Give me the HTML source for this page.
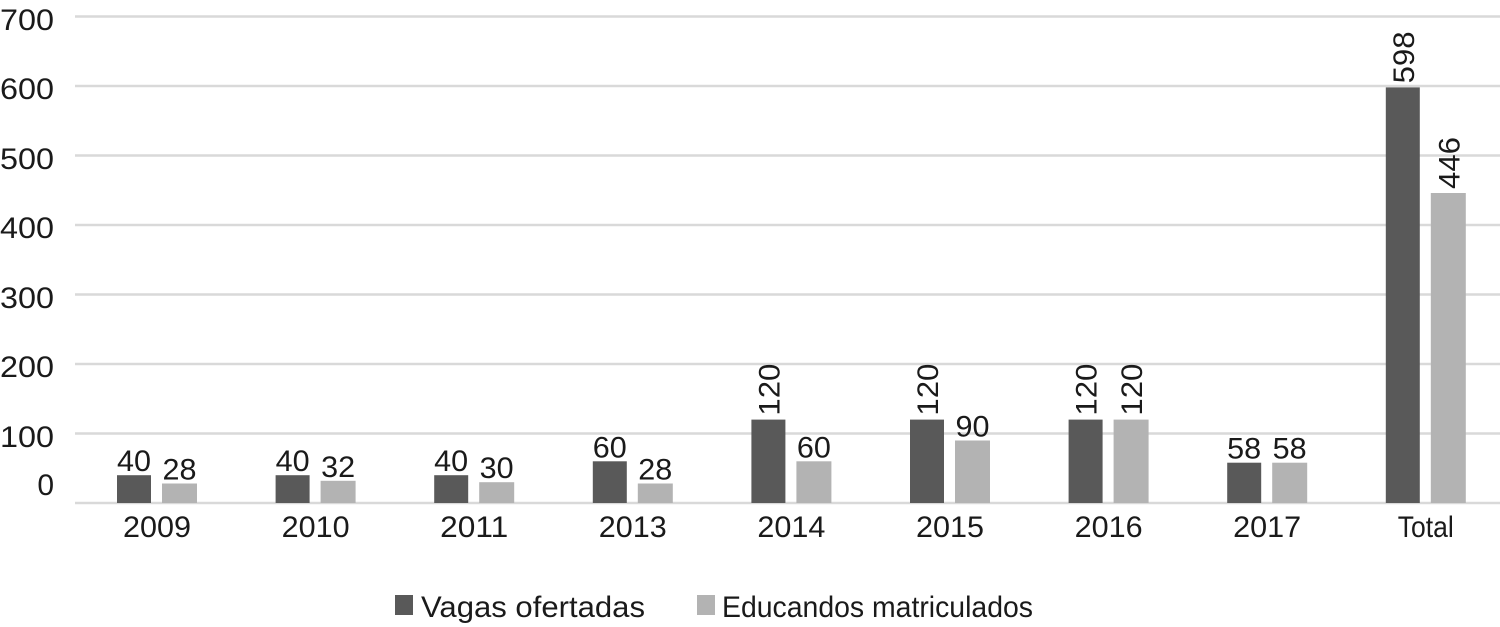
<!DOCTYPE html>
<html><head><style>
html,body{margin:0;padding:0;background:#fff;}
svg{display:block;}
text{font-family:"Liberation Sans",sans-serif;fill:#1a1a1a;}
</style></head><body>
<svg width="1500" height="627" viewBox="0 0 1500 627" xmlns="http://www.w3.org/2000/svg">
<g stroke="#d9d9d9" stroke-width="2.5">
<line x1="75" x2="1500" y1="16.5" y2="16.5"/>
<line x1="75" x2="1500" y1="86" y2="86"/>
<line x1="75" x2="1500" y1="155.5" y2="155.5"/>
<line x1="75" x2="1500" y1="225" y2="225"/>
<line x1="75" x2="1500" y1="294.5" y2="294.5"/>
<line x1="75" x2="1500" y1="364" y2="364"/>
<line x1="75" x2="1500" y1="433.5" y2="433.5"/>
<line x1="75" x2="1500" y1="503" y2="503"/>
</g>
<g font-size="30" text-anchor="end">
<text x="54" y="30" textLength="54" lengthAdjust="spacingAndGlyphs">700</text>
<text x="54" y="99" textLength="54" lengthAdjust="spacingAndGlyphs">600</text>
<text x="54" y="169" textLength="54" lengthAdjust="spacingAndGlyphs">500</text>
<text x="54" y="238" textLength="54" lengthAdjust="spacingAndGlyphs">400</text>
<text x="54" y="308" textLength="54" lengthAdjust="spacingAndGlyphs">300</text>
<text x="54" y="377" textLength="54" lengthAdjust="spacingAndGlyphs">200</text>
<text x="54" y="447" textLength="54" lengthAdjust="spacingAndGlyphs">100</text>
<text x="54" y="495">0</text>
</g>
<g fill="#595959">
<rect x="117" y="475.2" width="34" height="27.8"/>
<rect x="275.6" y="475.2" width="34" height="27.8"/>
<rect x="434.2" y="475.2" width="34" height="27.8"/>
<rect x="592.8" y="461.3" width="34" height="41.7"/>
<rect x="751.4" y="419.6" width="34" height="83.4"/>
<rect x="910" y="419.6" width="34" height="83.4"/>
<rect x="1068.6" y="419.6" width="34" height="83.4"/>
<rect x="1227.2" y="462.7" width="34" height="40.3"/>
<rect x="1385.8" y="87.4" width="34" height="415.6"/>
</g>
<g fill="#b3b3b3">
<rect x="162" y="483.5" width="35" height="19.5"/>
<rect x="320.6" y="480.8" width="35" height="22.2"/>
<rect x="479.2" y="482.2" width="35" height="20.8"/>
<rect x="637.8" y="483.5" width="35" height="19.5"/>
<rect x="796.4" y="461.3" width="35" height="41.7"/>
<rect x="955" y="440.5" width="35" height="62.5"/>
<rect x="1113.6" y="419.6" width="35" height="83.4"/>
<rect x="1272.2" y="462.7" width="35" height="40.3"/>
<rect x="1430.8" y="193" width="35" height="310"/>
</g>
<g font-size="30" text-anchor="middle">
<text x="157" y="537" textLength="68" lengthAdjust="spacingAndGlyphs">2009</text>
<text x="315.6" y="537" textLength="68" lengthAdjust="spacingAndGlyphs">2010</text>
<text x="474.2" y="537" textLength="68" lengthAdjust="spacingAndGlyphs">2011</text>
<text x="632.8" y="537" textLength="68" lengthAdjust="spacingAndGlyphs">2013</text>
<text x="791.4" y="537" textLength="68" lengthAdjust="spacingAndGlyphs">2014</text>
<text x="950" y="537" textLength="68" lengthAdjust="spacingAndGlyphs">2015</text>
<text x="1108.6" y="537" textLength="68" lengthAdjust="spacingAndGlyphs">2016</text>
<text x="1267.2" y="537" textLength="68" lengthAdjust="spacingAndGlyphs">2017</text>
<text x="1425.8" y="537" textLength="56" lengthAdjust="spacingAndGlyphs">Total</text>

<text x="134" y="471" textLength="34" lengthAdjust="spacingAndGlyphs">40</text>
<text x="179.5" y="479.5" textLength="34" lengthAdjust="spacingAndGlyphs">28</text>
<text x="292.6" y="471" textLength="34" lengthAdjust="spacingAndGlyphs">40</text>
<text x="338.1" y="476.8" textLength="34" lengthAdjust="spacingAndGlyphs">32</text>
<text x="451.2" y="471" textLength="34" lengthAdjust="spacingAndGlyphs">40</text>
<text x="496.7" y="478.2" textLength="34" lengthAdjust="spacingAndGlyphs">30</text>
<text x="609.8" y="457.3" textLength="34" lengthAdjust="spacingAndGlyphs">60</text>
<text x="655.3" y="479.5" textLength="34" lengthAdjust="spacingAndGlyphs">28</text>
<text x="813.9" y="457.3" textLength="34" lengthAdjust="spacingAndGlyphs">60</text>
<text x="972.5" y="436.5" textLength="34" lengthAdjust="spacingAndGlyphs">90</text>
<text x="1244.2" y="458.7" textLength="34" lengthAdjust="spacingAndGlyphs">58</text>
<text x="1289.7" y="458.7" textLength="34" lengthAdjust="spacingAndGlyphs">58</text>
</g>
<g font-size="30">
<text transform="translate(779.4,415.6) rotate(-90)" textLength="52" lengthAdjust="spacingAndGlyphs">120</text>
<text transform="translate(938,415.6) rotate(-90)" textLength="52" lengthAdjust="spacingAndGlyphs">120</text>
<text transform="translate(1096.6,415.6) rotate(-90)" textLength="52" lengthAdjust="spacingAndGlyphs">120</text>
<text transform="translate(1142.1,415.6) rotate(-90)" textLength="52" lengthAdjust="spacingAndGlyphs">120</text>
<text transform="translate(1413.8,83.4) rotate(-90)" textLength="52" lengthAdjust="spacingAndGlyphs">598</text>
<text transform="translate(1459.3,189) rotate(-90)" textLength="52" lengthAdjust="spacingAndGlyphs">446</text>
</g>
<g font-size="30">
<rect x="395" y="595" width="18" height="20" fill="#595959"/>
<text x="421" y="617" textLength="224" lengthAdjust="spacingAndGlyphs">Vagas ofertadas</text>
<rect x="697" y="595" width="18" height="20" fill="#b3b3b3"/>
<text x="722" y="617" textLength="311" lengthAdjust="spacingAndGlyphs">Educandos matriculados</text>
</g>
</svg>
</body></html>
